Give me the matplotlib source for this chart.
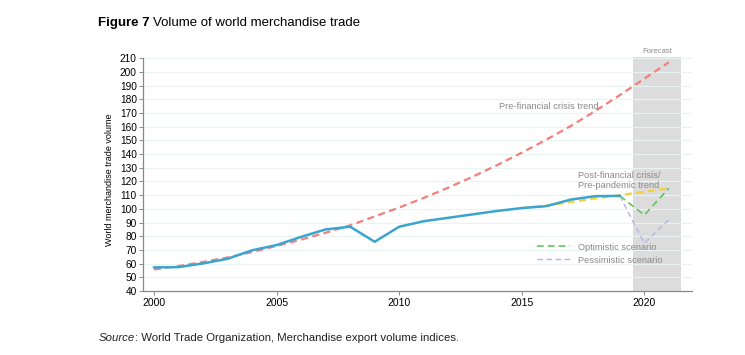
#!/usr/bin/env python3
"""
Figure 7 - Volume of world merchandise trade, with pre-/post-crisis trends
and the two 2020-2021 forecast scenarios.
"""

import matplotlib
matplotlib.use("Agg")
import matplotlib.pyplot as plt
from matplotlib.lines import Line2D
from matplotlib.transforms import offset_copy

plt.rcParams["font.family"] = ["Liberation Sans", "DejaVu Sans"]

# Actual trade volume index
years = list(range(2000, 2020))
trade = [57.3, 57.5, 60.2, 63.6, 69.8, 73.6, 79.6, 85.0, 87.0, 76.0,
         87.0, 91.0, 93.5, 96.0, 98.5, 100.6, 102.0, 106.8, 109.3, 109.5]

# Pre-financial crisis trend
pre_years = list(range(2000, 2022))
pre_trend = [55.8, 58.3, 61.3, 64.5, 68.5, 73.0, 77.6, 82.6, 88.0, 94.5,
             101.0, 108.0, 115.5, 123.5, 132.0, 141.0, 150.5, 160.5, 171.5,
             183.0, 195.0, 207.0]

# Post-financial crisis / pre-pandemic trend
post_years = [2015, 2016, 2017, 2018, 2019, 2020, 2021]
post_trend = [100.6, 102.3, 105.0, 107.6, 110.0, 112.5, 115.0]

# Scenarios
scen_years = [2019, 2020, 2021]
optimistic = [109.5, 95.5, 115.0]
pessimistic = [109.5, 75.0, 92.0]

yticks = list(range(40, 211, 10))
xticks = [2000, 2005, 2010, 2015, 2020]

GRAY_TXT = "#8a8a8a"
ANNOT_FS = 6.7

fig = plt.figure(figsize=(7.45, 3.55), dpi=100)
ax = fig.add_axes([0.192, 0.180, 0.737, 0.660])

ax.set_xlim(1999.55, 2021.95)
ax.set_ylim(40, 211)

# forecast band
ax.axvspan(2019.55, 2021.5, color="#dcdcdc", lw=0, zorder=0)
ax.text(2020.55, 212, "Forecast", fontsize=5.5, color=GRAY_TXT,
        ha="center", va="bottom")

for y in yticks:
    ax.axhline(y, color="#eaf3f3", lw=0.8, zorder=0.5)

ax.plot(pre_years, pre_trend, color="#f47f7b", lw=1.6, ls=(0, (3.2, 2.0)), zorder=2)
ax.plot(post_years, post_trend, color="#f4d034", lw=1.6, ls=(0, (3.2, 2.0)), zorder=2)
ax.plot(scen_years, optimistic, color="#5cc65c", lw=1.2, ls=(0, (4, 2.5)), zorder=2)
ax.plot(scen_years, pessimistic, color="#b8b3e6", lw=1.0, ls=(0, (4, 2.5)), zorder=2)
ax.plot(years, trade, color="#3ba5d1", lw=1.8, zorder=3)

ax.text(2018.15, 174.5, "Pre-financial crisis trend", fontsize=ANNOT_FS,
        color=GRAY_TXT, ha="right", va="center")
ax.text(2017.3, 120.6, "Post-financial crisis/\nPre-pandemic trend",
        fontsize=ANNOT_FS, color=GRAY_TXT, ha="left", va="center", linespacing=1.15)

handles = [Line2D([], [], color="#5cc65c", lw=1.2, ls=(0, (4, 2.5))),
           Line2D([], [], color="#b8b3e6", lw=1.0, ls=(0, (4, 2.5)))]
leg = ax.legend(handles, ["Optimistic scenario", "Pessimistic scenario"],
                loc="center left", bbox_to_anchor=(0.718, 0.16), frameon=False,
                fontsize=ANNOT_FS, handlelength=3.5, handletextpad=0.85,
                labelspacing=0.45, borderaxespad=0, borderpad=0)
for t in leg.get_texts():
    t.set_color(GRAY_TXT)

ax.set_yticks(yticks)
ax.set_xticks(xticks)
ax.tick_params(axis="y", labelsize=7.3, length=3, width=0.6, color="#777777", pad=1.5)
ax.tick_params(axis="x", labelsize=7.5, length=3, width=0.6, color="#777777", pad=2)
for s in ["top", "right"]:
    ax.spines[s].set_visible(False)
for s in ["left", "bottom"]:
    ax.spines[s].set_color("#888888")
    ax.spines[s].set_linewidth(0.9)
ax.spines["left"].set_bounds(40, 210)

ax.set_ylabel("World merchandise trade volume", fontsize=6.5)
ax.yaxis.set_label_coords(-0.053, 0.475)

renderer = fig.canvas.get_renderer()

# title: bold prefix followed by normal text
t1 = fig.text(0.1315, 0.934, "Figure 7", fontsize=9.5, fontweight="bold", va="center")
w = t1.get_window_extent(renderer).width
fig.text(0.1315, 0.934, "Volume of world merchandise trade", fontsize=9.5, va="center",
         transform=offset_copy(fig.transFigure, fig=fig, x=w + 3.5, units="dots"))

# source line: italic prefix then the rest
s1 = fig.text(0.1325, 0.048, "Source", fontsize=8.2, style="italic", va="center",
              color="#222222")
w = s1.get_window_extent(renderer).width
fig.text(0.1325, 0.048, ": World Trade Organization, Merchandise export volume indices.",
         fontsize=8.2, va="center", color="#222222",
         transform=offset_copy(fig.transFigure, fig=fig, x=w, units="dots"))

fig.savefig("out.png", dpi=100)
